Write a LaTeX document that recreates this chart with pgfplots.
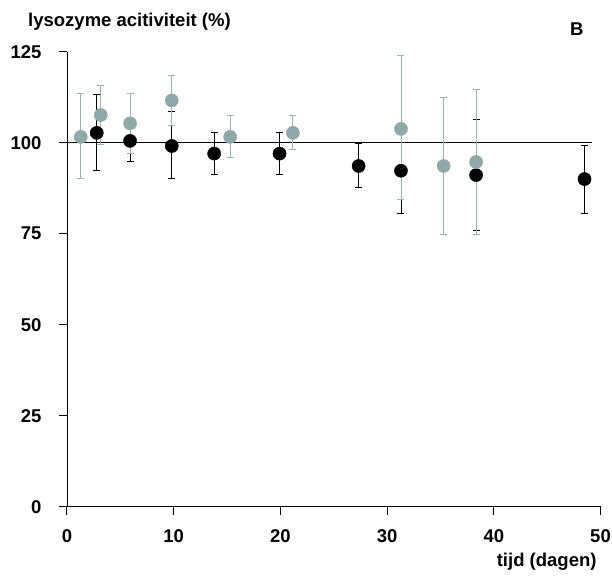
\documentclass[border=0pt]{standalone}
\usepackage{fontspec}
\setmainfont{Liberation Sans}
\usepackage{pgfplots}
\pgfplotsset{compat=1.18}
\definecolor{grayteal}{RGB}{143,168,168}
\definecolor{grayerr}{RGB}{150,180,180}
\begin{document}
\begin{tikzpicture}[font=\fontsize{18.5bp}{21bp}\selectfont\bfseries]
\begin{axis}[
  scale only axis, width=533.5bp, height=455bp,
  xmin=0, xmax=50, ymin=0, ymax=125,
  axis x line=bottom, axis y line=left,
  axis line style={-, line width=0.9bp},
  xtick={0,10,...,50}, ytick={0,25,...,125},
  xtick align=outside, ytick align=outside,
  major tick length=8bp,
  major tick style={black, line width=1bp},
  /pgf/number format/assume math mode=true,
  tick label style={font=\fontsize{18.5bp}{21bp}\selectfont\bfseries},
  xticklabel style={yshift=-11bp},
  yticklabel style={xshift=-14bp},
  clip=false,
]
\pgfplotsinvokeforeach{0,10,20,30,40,50}{\draw[black, line width=1bp] (axis cs:#1,0) -- ++(0,-8bp);}
\pgfplotsinvokeforeach{0,25,50,75,100,125}{\draw[black, line width=1bp] (axis cs:0,#1) -- ++(-8bp,0);}
\addplot[black, line width=1bp, no marks] coordinates {(0,100) (49.2,100)};
\addplot[black, only marks, mark=*, mark size=6.6bp,
  mark options={fill=black, draw=black},
  error bars/.cd, y dir=both, y explicit,
  error bar style={black, line width=0.8bp},
  error mark options={rotate=90, mark size=3.5bp, black, line width=0.8bp}]
coordinates {
  (2.79,102.7) += (0,10.5) -= (0,10.3)
  (5.91,100.5) += (0,5.5) -= (0,5.6)
  (9.82,99.1) += (0,9.6) -= (0,8.9)
  (13.79,97.0) += (0,5.9) -= (0,5.7)
  (19.92,97.0) += (0,5.9) -= (0,5.7)
  (27.33,93.6) += (0,6.1) -= (0,6.0)
  (31.30,92.3) += (0,11.6) -= (0,11.6)
  (38.34,91.1) += (0,15.4) -= (0,15.1)
  (48.5,90.0) += (0,9.3) -= (0,9.3)
};
\addplot[grayteal, only marks, mark=*, mark size=6.6bp,
  mark options={fill=grayteal, draw=grayteal},
  error bars/.cd, y dir=both, y explicit,
  error bar style={grayerr, line width=0.8bp},
  error mark options={rotate=90, mark size=3.5bp, grayerr, line width=0.8bp}]
coordinates {
  (1.29,101.6) += (0,11.9) -= (0,11.4)
  (3.16,107.6) += (0,8.1) -= (0,8.2)
  (5.91,105.3) += (0,8.2) -= (0,8.2)
  (9.82,111.6) += (0,6.9) -= (0,6.9)
  (15.29,101.6) += (0,6.0) -= (0,5.6)
  (21.17,102.7) += (0,4.9) -= (0,4.5)
  (31.30,103.8) += (0,20.2) -= (0,19.4)
  (35.30,93.6) += (0,18.8) -= (0,18.8)
  (38.34,94.7) += (0,19.9) -= (0,19.9)
};
\end{axis}
\node[anchor=west, inner sep=0pt] at (-39bp,484.7bp) {lysozyme acitiviteit (\%)};
\node[inner sep=0pt] at (509.7bp,477.7bp) {B};
\node[anchor=east, inner sep=0pt] at (529.7bp,-55bp) {tijd (dagen)};
\pgfresetboundingbox
\path[use as bounding box] (-67bp,-71.3bp) rectangle (545bp,506.7bp);
\end{tikzpicture}
\end{document}
